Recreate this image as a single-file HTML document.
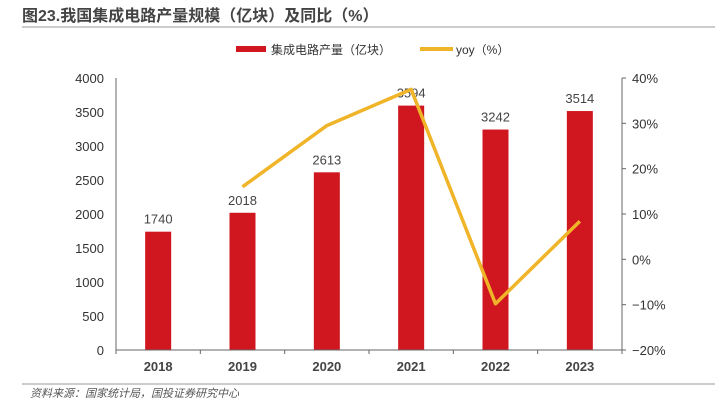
<!DOCTYPE html>
<html><head><meta charset="utf-8"><style>
body{margin:0;background:#fff;width:720px;height:410px;overflow:hidden;font-family:"Liberation Sans","Noto Sans CJK SC",sans-serif}
</style></head><body>
<svg width="720" height="410" xmlns="http://www.w3.org/2000/svg">
<text x="22" y="21" font-size="16" font-weight="bold" fill="#444" font-family="Liberation Sans,Noto Sans CJK SC,sans-serif">图23.我国集成电路产量规模（亿块）及同比（%）</text>
<line x1="22" y1="27" x2="715" y2="27" stroke="#bbb" stroke-width="1.5"/>
<g>
<rect x="236" y="46" width="30" height="6" fill="#d0161e"/>
<text x="271" y="54" font-size="12" fill="#333">集成电路产量（亿块）</text>
<rect x="420" y="47" width="33" height="4" fill="#f0b429"/>
<text x="456" y="54" font-size="12" fill="#333">yoy（%）</text>
</g>
<g id="plot"></g>
<line x1="22" y1="384" x2="715" y2="384" stroke="#999" stroke-width="1"/>
<text x="30" y="397" font-size="11" font-style="italic" fill="#555">资料来源：国家统计局，国投证券研究中心</text>
</svg>
<script>
const categories=["2018","2019","2020","2021","2022","2023"];
const outputValues=[1740,2018,2613,3594,3242,3514];
const yoyValues=[null,16.0,29.5,37.5,-9.8,8.4];
const leftTicks=[0,500,1000,1500,2000,2500,3000,3500,4000];
const rightTicks=[-20,-10,0,10,20,30,40];
const NS="http://www.w3.org/2000/svg";
const g=document.getElementById('plot');
const X0=116,X1=622,Y0=350,Y1=78;
const step=(X1-X0)/categories.length;
const xc=i=>X0+step*(i+0.5);
const yL=v=>Y0-(v-0)/(4000-0)*(Y0-Y1);
const yR=v=>Y0-(v+20)/60*(Y0-Y1);
function mk(t,a,txt){const e=document.createElementNS(NS,t);for(const k in a)e.setAttribute(k,a[k]);if(txt!=null)e.textContent=txt;g.appendChild(e);return e;}
leftTicks.forEach(v=>{const e=mk('text',{x:104,y:yL(v)+5,'text-anchor':'end','font-size':13,fill:'#333'},String(v));

});
rightTicks.forEach(v=>{const e=mk('text',{x:632,y:yR(v)+5,'font-size':13,fill:'#333'},(v<0?'−':'')+Math.abs(v)+'%');


const t=mk('line',{x1:X1,x2:X1+4,y1:yR(v),y2:yR(v),stroke:'#666'});

});
outputValues.forEach((v,i)=>{const b=mk('rect',{x:xc(i)-13,y:yL(v),width:26,height:Y0-yL(v),fill:'#d0161e'});


const l=mk('text',{x:xc(i),y:yL(v)-8,'text-anchor':'middle','font-size':13,fill:'#444'},String(v));


const c=mk('text',{x:xc(i),y:Y0+21,'text-anchor':'middle','font-size':13,'font-weight':'bold',fill:'#444'},categories[i]);

});
const ax=mk('path',{d:`M${X0} ${Y1}V${Y0}H${X1}V${Y1}`,fill:'none',stroke:'#666','stroke-width':1});


for(let i=0;i<=categories.length;i++){const t=mk('line',{x1:X0+step*i,x2:X0+step*i,y1:Y0,y2:Y0+4,stroke:'#666'});

}
let d='';yoyValues.forEach((v,i)=>{if(v==null)return;d+=(d?'L':'M')+xc(i)+' '+yR(v);});
const ln=mk('path',{d:d,fill:'none',stroke:'#f0b429','stroke-width':3.5,'stroke-linejoin':'round'});


</script>
</body></html>
